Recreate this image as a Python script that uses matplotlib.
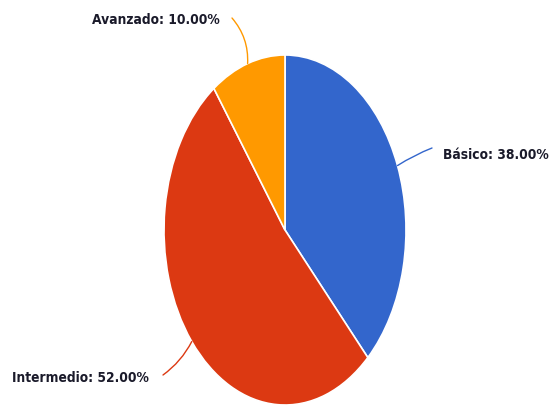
import numpy as np
import matplotlib
matplotlib.use('Agg')
import matplotlib.pyplot as plt

# Niveles y porcentajes
niveles = ['Básico', 'Intermedio', 'Avanzado']
porcentajes = [38.0, 52.0, 10.0]
colores = ['#3366CC', '#DC3912', '#FF9900']

# Posición (px) del final de cada línea guía y del texto
fin_linea = [(432, 148), (163, 375), (232, 18)]
pos_texto = [(443, 155), (149, 378), (220, 20)]
alineacion = ['left', 'right', 'right']
curvatura = [0.05, 0.12, -0.2]

# centro y radios de la elipse en píxeles
cx, cy, rx, ry = 285, 230, 121, 175

def a_datos(px, py):
    return (px - cx) / rx, (cy - py) / ry

fig = plt.figure(figsize=(5.5, 4.05), dpi=100)
ax = fig.add_axes([0, 0, 1, 1])
ax.pie(porcentajes, colors=colores, startangle=90, counterclock=False,
       wedgeprops=dict(edgecolor='white', linewidth=1.2))
ax.set_aspect('auto')
ax.set_xlim(-cx / rx, (550 - cx) / rx)
ax.set_ylim((cy - 405) / ry, cy / ry)
ax.axis('off')

# ángulo medio de cada porción
acum = np.cumsum([0] + porcentajes)
for i, nivel in enumerate(niveles):
    medio = 90 - (acum[i] + porcentajes[i] / 2) * 3.6
    p = (np.cos(np.radians(medio)), np.sin(np.radians(medio)))
    ax.annotate('', xy=p, xytext=a_datos(*fin_linea[i]),
                arrowprops=dict(arrowstyle='-', color=colores[i], lw=1,
                                shrinkA=0, shrinkB=0,
                                connectionstyle='arc3,rad=%s' % curvatura[i]))
    tx, ty = a_datos(*pos_texto[i])
    ax.text(tx, ty, '%s: %.2f%%' % (nivel, porcentajes[i]),
            ha=alineacion[i], va='center', fontsize=9.9, fontweight='bold',
            fontstretch='condensed', color='#1a1a2a')

fig.savefig('out.png', dpi=100)
